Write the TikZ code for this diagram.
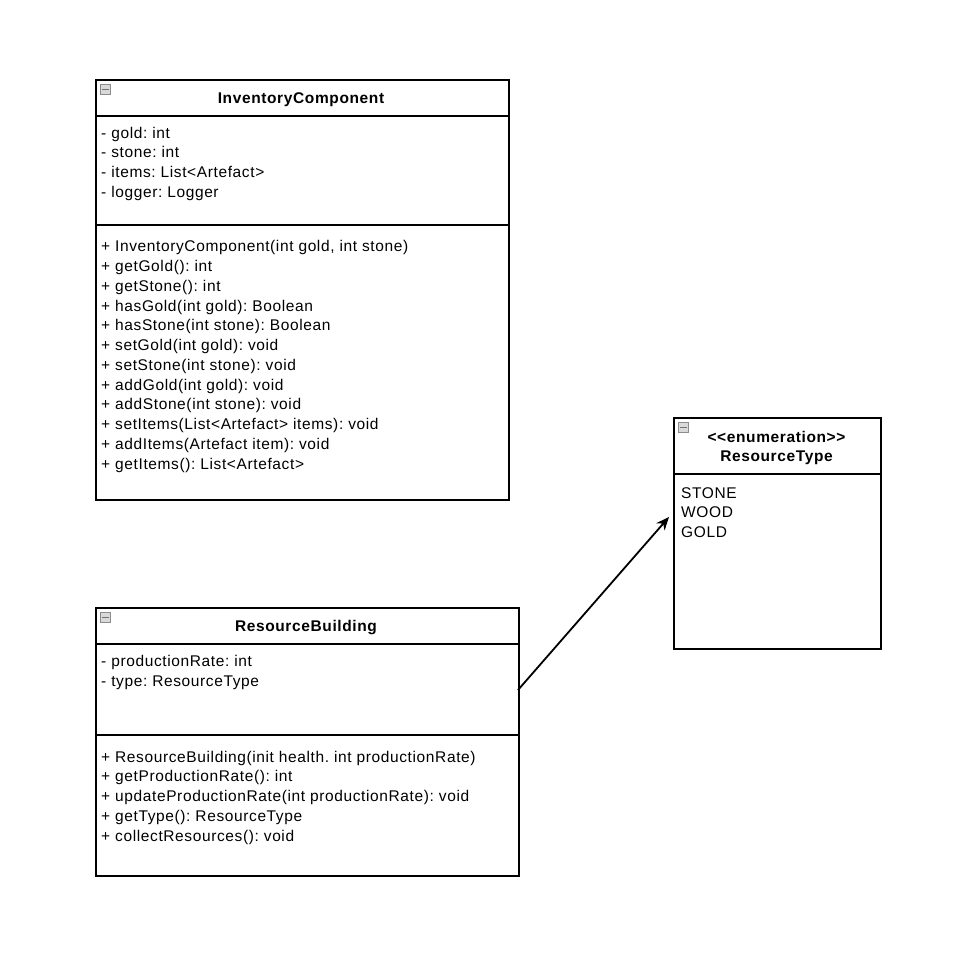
\documentclass[tikz,border=0pt]{standalone}
\usepackage{fontspec}
\setmainfont{Liberation Sans}[Ligatures=TeXOff, LetterSpace=4]
\usetikzlibrary{arrows.meta}
\tikzset{
  box/.style={draw, line width=1.8pt, anchor=north west, inner sep=0pt},
  sep/.style={line width=1.8pt},
  txt/.style={anchor=base west, inner sep=0pt, align=left, font=\frenchspacing\fontsize{15.5}{19.73}\selectfont},
  ttl/.style={anchor=base, inner sep=0pt, align=center, font=\frenchspacing\bfseries\fontsize{15.5}{19.5}\selectfont},
  icon/.style={draw=gray!90, fill=gray!30, line width=0.7pt, minimum size=9.5pt, inner sep=0pt},
  iconbar/.style={draw=gray!90!black, line width=1pt},
  conn/.style={line width=1.8pt, -{Stealth[length=13pt,width=11pt]}}
}
\begin{document}
\begin{tikzpicture}[x=1pt,y=-1pt]
\useasboundingbox (0,0) rectangle (956,970);
% InventoryComponent
\node[box, minimum width=413pt, minimum height=420pt] (ic) at (95,79) {};
\draw[sep] (95,116) -- (508,116);
\draw[sep] (95,225) -- (508,225);
\node[icon] (ici) at (105.5,89.5) {};
\draw[iconbar] (ici.west) ++(2,0) -- ([xshift=-2pt]ici.east);
\node[ttl] (ict) at (301,103.5) {InventoryComponent};
% anchor base = baseline of the last line
\node[txt] (ica) at (101,197.2) {- gold: int\\- stone: int\\- items: List<Artefact>\\- logger: Logger};
\node[txt] (icm) at (101,469) {+ InventoryComponent(int gold, int stone)\\+ getGold(): int\\+ getStone(): int\\+ hasGold(int gold): Boolean\\+ hasStone(int stone): Boolean\\+ setGold(int gold): void\\+ setStone(int stone): void\\+ addGold(int gold): void\\+ addStone(int stone): void\\+ setItems(List<Artefact> items): void\\+ addItems(Artefact item): void\\+ getItems(): List<Artefact>};
% ResourceType
\node[box, minimum width=207pt, minimum height=231pt] (rt) at (673,417) {};
\draw[sep] (673,474) -- (880,474);
\node[icon] (rti) at (683.5,427.5) {};
\draw[iconbar] (rti.west) ++(2,0) -- ([xshift=-2pt]rti.east);
\node[ttl] (rtt) at (776.5,461.5) {\textless\textless enumeration\textgreater\textgreater\\ResourceType};
\node[txt] (rta) at (681,537.5) {STONE\\WOOD\\GOLD};
% ResourceBuilding
\node[box, minimum width=423pt, minimum height=268pt] (rb) at (95,607) {};
\draw[sep] (95,644) -- (518,644);
\draw[sep] (95,735) -- (518,735);
\node[icon] (rbi) at (105.5,617.5) {};
\draw[iconbar] (rbi.west) ++(2,0) -- ([xshift=-2pt]rbi.east);
\node[ttl] (rbt) at (306,631.5) {ResourceBuilding};
\node[txt] (rba) at (101,686.7) {- productionRate: int\\- type: ResourceType};
\node[txt] (rbm) at (101,841) {+ ResourceBuilding(init health. int productionRate)\\+ getProductionRate(): int\\+ updateProductionRate(int productionRate): void\\+ getType(): ResourceType\\+ collectResources(): void};
% connector
\coordinate (s) at (518,690);
\coordinate (e) at (669,517);
\draw[conn] (s) -- (e);
\end{tikzpicture}
\end{document}
